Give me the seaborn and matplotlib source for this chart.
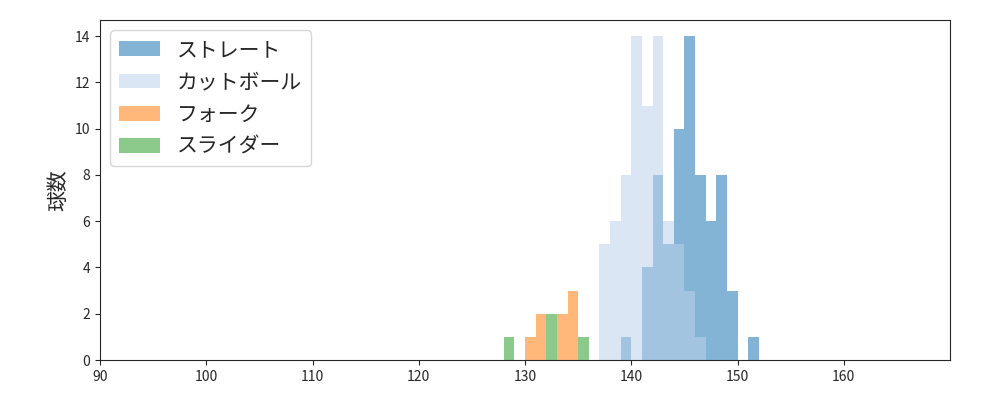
import numpy as np
import pandas as pd
import matplotlib
matplotlib.use('Agg')
import matplotlib.pyplot as plt
import seaborn as sns

# 球速ヒストグラム (1 km/h ビン): ビン下端と球数
straight_bins = [139, 140, 141, 142, 143, 144, 145, 146, 147, 148, 149, 151]
straight_counts = [1, 0, 4, 8, 5, 10, 14, 8, 6, 8, 3, 1]
cut_bins = [137, 138, 139, 140, 141, 142, 143, 144, 145, 146]
cut_counts = [5, 6, 8, 14, 11, 14, 6, 5, 3, 1]
fork_bins = [130, 131, 133, 134]
fork_counts = [1, 2, 2, 3]
slider_bins = [128, 132, 135]
slider_counts = [1, 2, 1]

series = [
    ('ストレート', straight_bins, straight_counts, '#1f77b4'),
    ('カットボール', cut_bins, cut_counts, '#bcd2ec'),
    ('フォーク', fork_bins, fork_counts, '#ff7f0e'),
    ('スライダー', slider_bins, slider_counts, '#2ca02c'),
]

sns.set_style('ticks')
plt.rcParams['font.family'] = ['Noto Sans CJK JP', 'DejaVu Sans']

fig, ax = plt.subplots(figsize=(10, 4), dpi=100)
edges = np.arange(120, 160, 1)
for name, b, c, col in series:
    speeds = np.repeat(np.array(b) + 0.5, c)
    sns.histplot(x=speeds, bins=edges, color=col,
                 alpha=0.55, linewidth=0, label=name, ax=ax)

ax.set_xlim(90, 170)
ax.set_ylim(0, 14.7)
ax.set_xticks(range(90, 170, 10))
ax.set_yticks(range(0, 15, 2))
ax.set_xlabel('')
ax.set_ylabel('球数', fontsize=15)
ax.tick_params(labelsize=10)
ax.legend(loc='upper left', fontsize=15)
plt.subplots_adjust(left=0.1, right=0.95, top=0.95, bottom=0.1)
plt.savefig('out.png')
